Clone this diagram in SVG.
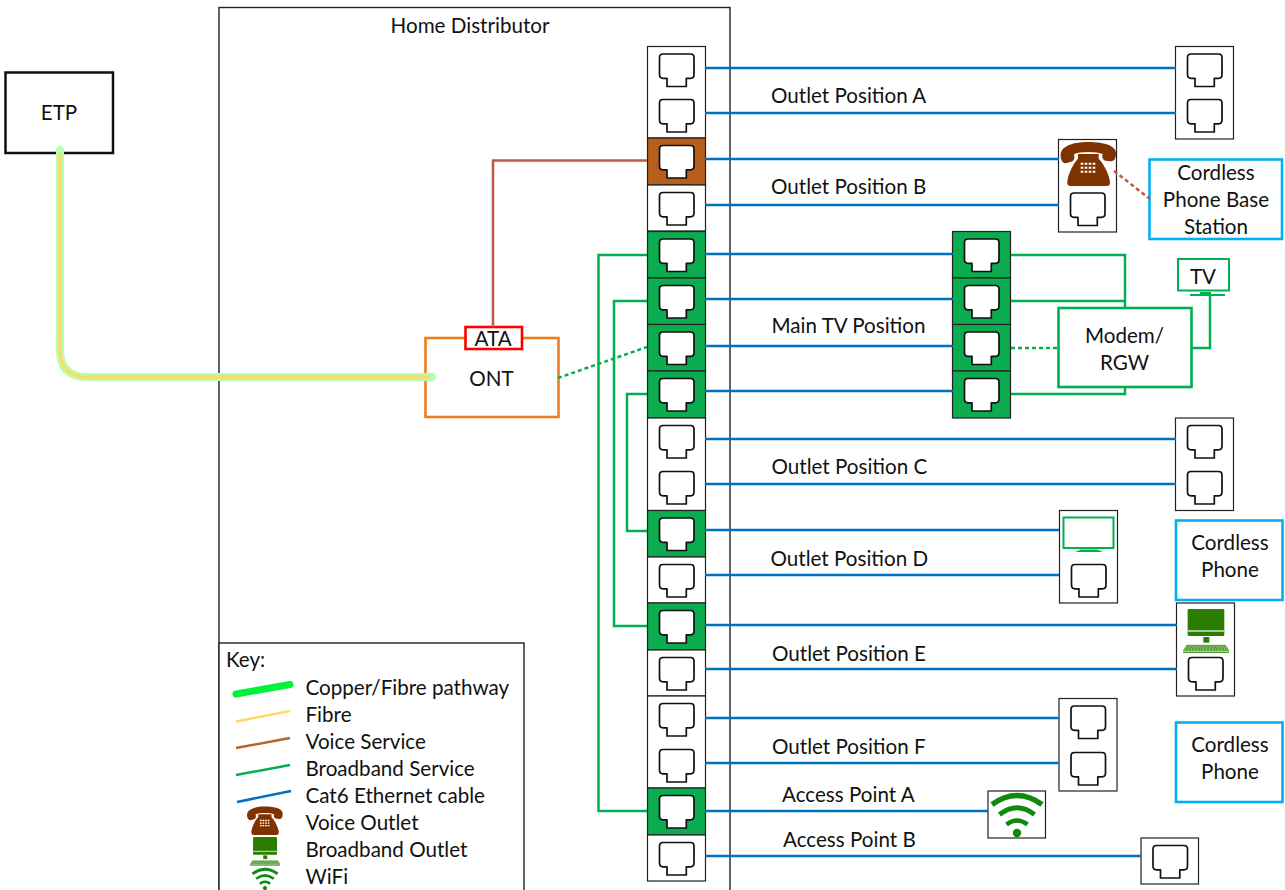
<svg xmlns="http://www.w3.org/2000/svg" xmlns:xlink="http://www.w3.org/1999/xlink" width="1285" height="890" viewBox="0 0 1285 890">
<style>
text{font-family:"Lato","Noto Sans",sans-serif;font-size:20.6px;fill:#111}
.m{text-anchor:middle}
.box{fill:#fff;stroke:#222;stroke-width:1.2}
.brown{fill:#b65e1c;stroke:#222;stroke-width:1.2}
.green{fill:#0bab50;stroke:#222;stroke-width:1.2}
.jack{fill:#fff;stroke:#111;stroke-width:1.7;stroke-linejoin:round}
.blue{fill:none;stroke:#0070c0;stroke-width:2.5}
.bb{fill:none;stroke:#00b050;stroke-width:2.5}
.bbd{fill:none;stroke:#00b050;stroke-width:2.5;stroke-dasharray:4 3}
.voice{fill:none;stroke:#c0594a;stroke-width:2.5}
.cord{fill:#fff;stroke:#00b0f0;stroke-width:2.6}
.wifi{fill:none;stroke:#0f8a0f;stroke-linecap:butt}
</style>
<defs>
<path id="jack" class="jack" d="M15.5 7.5H43Q46.5 7.5 46.5 11V28Q46.5 31.8 43 31.8H38.8V40H19.5V31.8H15.5Q12 31.8 12 28V11Q12 7.5 15.5 7.5Z"/>
<g id="phone">
<path fill="#7f3300" d="M62 78C60 50 95 36 145 36C195 36 230 48 228 72C228 86 222 94 212 94L196 92C186 90 186 78 188 72C170 64 120 64 102 72C104 80 104 88 98 94L78 100C68 100 62 90 62 78Z"/>
<path fill="#7f3300" d="M114 72H176V86C194 104 210 140 210 158Q210 168 200 168H92Q82 168 82 158C82 140 96 104 114 86Z"/>
<path fill="none" stroke="#fff" stroke-width="6" stroke-dasharray="8 4" d="M122 101H170M122 113H170M122 125H170"/>
</g>
<g id="computer">
<rect x="413" y="312" width="110" height="81" rx="4" fill="#2a7d00"/>
<rect x="413" y="375" width="110" height="6" fill="#a9cd9a"/>
<rect x="460" y="396" width="18" height="17" fill="#2a7d00"/>
<path d="M400 438L410 421H527L537 438Z" fill="#8fbf7a" stroke="#2a7d00" stroke-width="2"/>
<path d="M412 426H525M408 432H529" stroke="#2a7d00" stroke-width="3" stroke-dasharray="6 3" fill="none"/>
<rect x="399" y="441" width="138" height="2.5" fill="#2a7d00"/>
</g>
<g id="wifisym">
<circle cx="0" cy="0" r="4.2" fill="#0f8a0f"/>
<path class="wifi" stroke-width="4.6" d="M-10.500 -8.500Q0 -16.500 10.500 -8.500"/>
<path class="wifi" stroke-width="5" d="M-17.500 -18.500Q0 -32 17.500 -18.500"/>
<path class="wifi" stroke-width="5.600" d="M-25 -28.500Q0 -46.500 25 -28.500"/>
</g>
</defs>

<g id="home-distributor">
<rect x="219" y="7.500" width="511" height="890" fill="#fff" stroke="#222" stroke-width="1.4"/>
<text x="470" y="33" class="m">Home Distributor</text>
</g>

<g id="etp"><rect x="5.500" y="72.500" width="107.500" height="80.500" fill="#fff" stroke="#111" stroke-width="2.500"/><text x="59" y="120" class="m">ETP</text></g>

<g id="ont"><rect x="425.500" y="338" width="133" height="79" fill="#fff" stroke="#ed7d1e" stroke-width="2.600"/><text x="491.500" y="386" class="m">ONT</text></g>
<g id="ata"><rect x="465.500" y="327" width="56.500" height="22" fill="#fff" stroke="#f00" stroke-width="2.600"/><text x="493" y="346" class="m">ATA</text></g>

<g id="panel-a"><rect class="box" x="647.500" y="46.500" width="58" height="91.500"/><use xlink:href="#jack" href="#jack" x="647.500" y="46.500"/><use href="#jack" x="647.500" y="92"/></g>
<g id="panel-b"><rect class="brown" x="647.500" y="138" width="58" height="47"/><rect class="box" x="647.500" y="185" width="58" height="46"/><use href="#jack" x="647.500" y="138"/><use href="#jack" x="647.500" y="185"/></g>
<g id="panel-tv"><rect class="green" x="647.500" y="231.500" width="58" height="46.500"/><rect class="green" x="647.500" y="278" width="58" height="46.500"/><rect class="green" x="647.500" y="324.500" width="58" height="46.500"/><rect class="green" x="647.500" y="371" width="58" height="47"/><use href="#jack" x="647.500" y="231.500"/><use href="#jack" x="647.500" y="278"/><use href="#jack" x="647.500" y="324.500"/><use href="#jack" x="647.500" y="371"/></g>
<g id="panel-c"><rect class="box" x="647.500" y="418" width="58" height="92.500"/><use href="#jack" x="647.500" y="418"/><use href="#jack" x="647.500" y="464"/></g>
<g id="panel-d"><rect class="green" x="647.500" y="510.500" width="58" height="46.500"/><rect class="box" x="647.500" y="557" width="58" height="46"/><use href="#jack" x="647.500" y="510.500"/><use href="#jack" x="647.500" y="557"/></g>
<g id="panel-e"><rect class="green" x="647.500" y="603" width="58" height="47"/><rect class="box" x="647.500" y="650" width="58" height="46"/><use href="#jack" x="647.500" y="603"/><use href="#jack" x="647.500" y="650"/></g>
<g id="panel-f"><rect class="box" x="647.500" y="696" width="58" height="92"/><use href="#jack" x="647.500" y="696"/><use href="#jack" x="647.500" y="742"/></g>
<g id="panel-ap"><rect class="green" x="647.500" y="788" width="58" height="47"/><rect class="box" x="647.500" y="835" width="58" height="46"/><use href="#jack" x="647.500" y="788"/><use href="#jack" x="647.500" y="835"/></g>

<g id="labels">
<text x="771" y="103">Outlet Position A</text>
<text x="771" y="194">Outlet Position B</text>
<text x="771.500" y="333">Main TV Position</text>
<text x="771.500" y="474">Outlet Position C</text>
<text x="770.500" y="566">Outlet Position D</text>
<text x="772" y="661">Outlet Position E</text>
<text x="772" y="754">Outlet Position F</text>
<text x="782" y="802">Access Point A</text>
<text x="783" y="847">Access Point B</text>
</g>

<g id="outlet-a"><rect class="box" x="1175.500" y="46.500" width="58" height="92.500"/><use href="#jack" x="1175.500" y="46.500"/><use href="#jack" x="1175.500" y="92"/></g>
<g id="outlet-b"><rect class="box" x="1058.500" y="139.500" width="58" height="92.500"/><use href="#phone" transform="translate(1040 130) scale(.3333)"/><use href="#jack" x="1058.500" y="185.500"/></g>
<g id="outlet-tv"><rect class="green" x="952.500" y="231.500" width="58" height="46.500"/><rect class="green" x="952.500" y="278" width="58" height="46.500"/><rect class="green" x="952.500" y="324.500" width="58" height="46.500"/><rect class="green" x="952.500" y="371" width="58" height="47"/><use href="#jack" x="952.500" y="231.500"/><use href="#jack" x="952.500" y="278"/><use href="#jack" x="952.500" y="324.500"/><use href="#jack" x="952.500" y="371"/></g>
<g id="modem"><rect x="1058.500" y="308" width="133" height="79" fill="#fff" stroke="#00b050" stroke-width="2.600"/><text x="1124.500" y="343" class="m">Modem/</text><text x="1124.500" y="370" class="m">RGW</text></g>
<g id="tv"><rect x="1178" y="259" width="51" height="31.500" fill="#fff" stroke="#00b050" stroke-width="2"/><path d="M1190 295H1225" stroke="#00b050" stroke-width="2"/><rect x="1200" y="292" width="11" height="2" fill="#00b050"/><text x="1203" y="284" class="m">TV</text></g>
<g id="cordless-base"><rect class="cord" x="1149.500" y="159.500" width="132.500" height="79.500"/><text x="1216" y="180" class="m">Cordless</text><text x="1216" y="207" class="m">Phone Base</text><text x="1216" y="234" class="m">Station</text></g>
<g id="outlet-c"><rect class="box" x="1175.500" y="418" width="58" height="92.500"/><use href="#jack" x="1175.500" y="418"/><use href="#jack" x="1175.500" y="464"/></g>
<g id="outlet-d"><rect class="box" x="1059.500" y="510.500" width="58" height="92.500"/><rect x="1063.500" y="517.500" width="50" height="30.500" fill="#fff" stroke="#00b050" stroke-width="2"/><path d="M1075 552H1103L1097 549.500H1081Z" fill="#00b050"/><use href="#jack" x="1059.500" y="557"/></g>
<g id="cordless-1"><rect class="cord" x="1176" y="520.500" width="106.500" height="79.500"/><text x="1230" y="550" class="m">Cordless</text><text x="1230" y="577" class="m">Phone</text></g>
<g id="outlet-e"><rect class="box" x="1176.500" y="603" width="58" height="93"/><use href="#computer" transform="translate(1050 505) scale(.3333)"/><use href="#jack" x="1176.500" y="650"/></g>
<g id="outlet-f"><rect class="box" x="1059" y="698.500" width="58" height="92.500"/><use href="#jack" x="1059" y="698.500"/><use href="#jack" x="1059" y="745"/></g>
<g id="cordless-2"><rect class="cord" x="1176" y="722.500" width="106.500" height="79.500"/><text x="1230" y="752" class="m">Cordless</text><text x="1230" y="779" class="m">Phone</text></g>
<g id="ap-a"><rect class="box" x="988" y="791" width="57.500" height="47"/><use href="#wifisym" x="1017" y="833"/></g>
<g id="ap-b"><rect class="box" x="1141" y="838" width="57.500" height="46"/><use href="#jack" x="1141" y="838"/></g>

<g id="key">
<rect x="219" y="643" width="305" height="260" fill="#fff" stroke="#222" stroke-width="1.4"/>
<text x="226" y="667">Key:</text>
<path d="M236 694L290 684.500" stroke="#00f23a" stroke-width="7" stroke-linecap="round"/>
<path d="M236 721.500L290 711" stroke="#ffd966" stroke-width="2.500"/>
<path d="M236 748L290 738" stroke="#b8652a" stroke-width="2.500"/>
<path d="M236 775L290 765" stroke="#00b050" stroke-width="2.500"/>
<path d="M237 802L291 791" stroke="#0070c0" stroke-width="2.500"/>
<use href="#phone" transform="translate(233.700 798.800) scale(.215)"/>
<use href="#computer" transform="translate(163 769) scale(.218)"/>
<g transform="translate(265 888) scale(.5)"><use href="#wifisym"/></g>
<text x="305.500" y="695">Copper/Fibre pathway</text>
<text x="305.500" y="722">Fibre</text>
<text x="305.500" y="749">Voice Service</text>
<text x="305.500" y="776">Broadband Service</text>
<text x="305.500" y="803">Cat6 Ethernet cable</text>
<text x="305.500" y="830">Voice Outlet</text>
<text x="305.500" y="857">Broadband Outlet</text>
<text x="305.500" y="884">WiFi</text>
</g>

<g id="connectors">
<path d="M60 150V350Q60 377 87 377H432" fill="none" stroke="#b6ffae" stroke-width="8" stroke-linecap="round"/>
<path d="M60 153V350Q60 377 87 377H430" fill="none" stroke="#ffd966" stroke-width="3.400"/>
<path class="voice" d="M493 327V160.500H647"/>
<path class="bb" d="M647 255H598.500V811H647"/>
<path class="bb" d="M647 301H614V626H647"/>
<path class="bb" d="M647 394H627V531H647"/>
<path class="bbd" d="M558 378L647 347"/>
<path class="blue" d="M705 68H1176M705 113H1176M705 159H1059M705 205H1059M705 254H953M705 299H953M705 346H953M705 391H953M705 439H1176M705 484H1176M705 530H1059M705 575H1059M705 625H1177M705 669H1177M705 718H1059M705 763H1059M705 811H988M705 856H1141"/>
<path class="bb" d="M1011 255H1125V308M1011 301H1125M1011 394H1125V387"/>
<path class="bbd" d="M1011 348H1058"/>
<path class="bb" d="M1191 348H1210V295"/>
<path d="M1114 171L1150 199" fill="none" stroke="#c0594a" stroke-width="2.500" stroke-dasharray="4 3"/>
</g>
</svg>
